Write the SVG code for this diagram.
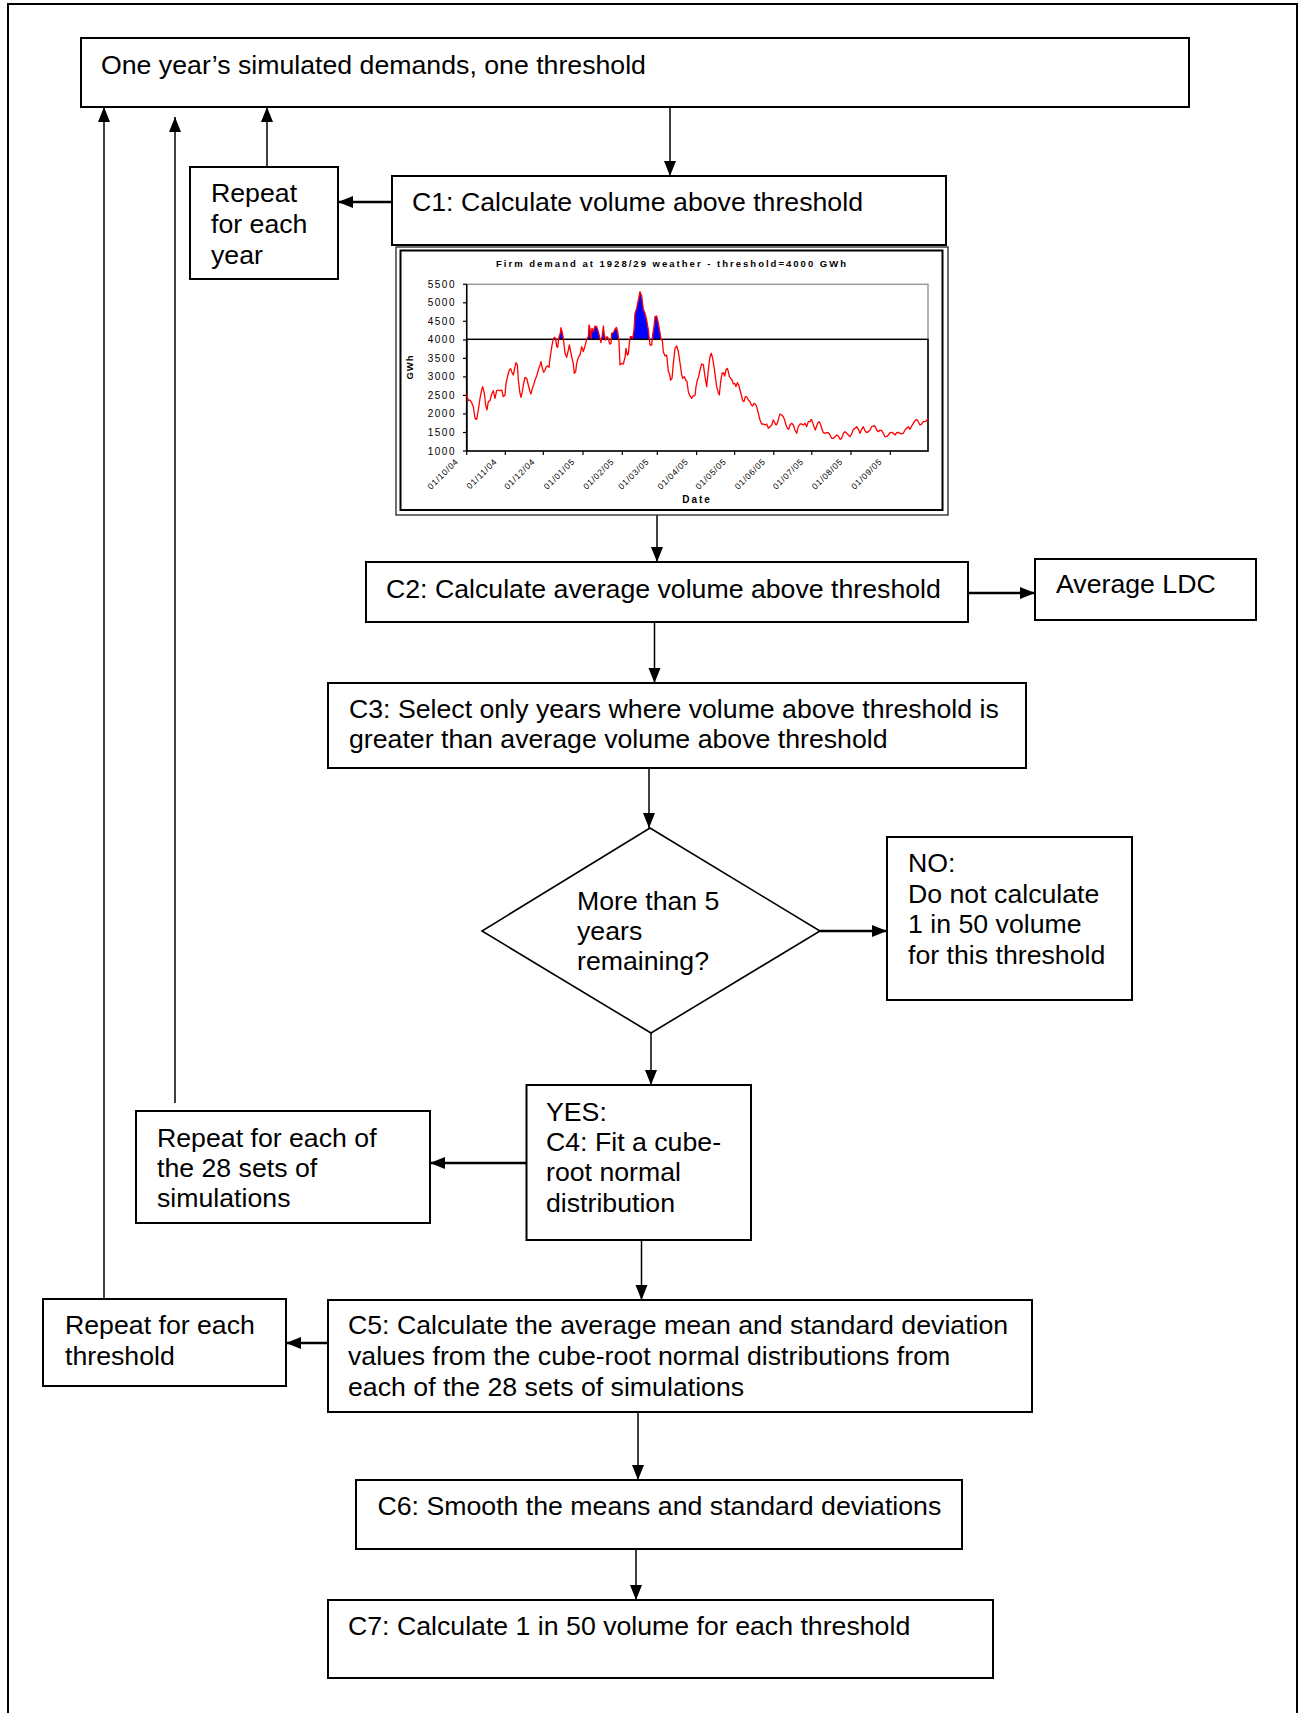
<svg xmlns="http://www.w3.org/2000/svg" width="1298" height="1713" viewBox="0 0 1298 1713">
  <style>
    .box { fill: #fff; stroke: #000; stroke-width: 2; }
    .t { font-family: "Liberation Sans", Arial, sans-serif; font-size: 26.7px; fill: #000; }
    .conn { stroke: #000; fill: none; marker-end: url(#ah); }
    .v { stroke-width: 1.5; }
    .h { stroke-width: 2.5; }
    .ct { font-family: "Liberation Sans", Arial, sans-serif; font-weight: bold; fill: #000; }
    .yl { font-family: "Liberation Sans", Arial, sans-serif; font-size: 10px; letter-spacing: 1.5px; fill: #000; text-anchor: end; }
    .xl { font-family: "Liberation Sans", Arial, sans-serif; font-size: 8.5px; letter-spacing: 0.8px; fill: #000; text-anchor: end; }
    .tick { stroke: #000; stroke-width: 1.2; }
  </style>
  <defs>
    <marker id="ah" markerUnits="userSpaceOnUse" markerWidth="16" markerHeight="14" refX="15" refY="6" orient="auto">
      <path d="M0,0 L15,6 L0,12 z" fill="#000"/>
    </marker>
    <clipPath id="above" clipPathUnits="userSpaceOnUse">
      <rect x="0" y="0" width="720" height="208"/>
    </clipPath>
  </defs>

  <rect width="1298" height="1713" fill="#fff"/>
  <!-- page frame (open at the bottom) -->
  <path d="M8,1713 V4 H1297 V1713" fill="none" stroke="#000" stroke-width="2"/>

  <!-- connectors -->
  <g id="connectors">
    <line class="conn v" x1="670" y1="107" x2="670" y2="176"/>
    <line class="conn h" x1="392" y1="202" x2="338" y2="202"/>
    <line class="conn v" x1="267" y1="167" x2="267" y2="107"/>
    <line class="conn v" x1="175" y1="1103" x2="175" y2="117"/>
    <line class="conn v" x1="104" y1="1299" x2="104" y2="107"/>
    <line class="conn v" x1="657" y1="515" x2="657" y2="562"/>
    <line class="conn h" x1="968" y1="593" x2="1035" y2="593"/>
    <line class="conn v" x1="654.5" y1="622" x2="654.5" y2="683"/>
    <line class="conn v" x1="649" y1="768" x2="649" y2="828"/>
    <line class="conn h" x1="820" y1="931" x2="887" y2="931"/>
    <line class="conn v" x1="651" y1="1033" x2="651" y2="1085"/>
    <line class="conn h" x1="526" y1="1163" x2="430" y2="1163"/>
    <line class="conn v" x1="641.5" y1="1240" x2="641.5" y2="1300"/>
    <line class="conn h" x1="328" y1="1343" x2="286" y2="1343"/>
    <line class="conn v" x1="638" y1="1412" x2="638" y2="1480"/>
    <line class="conn v" x1="636" y1="1549" x2="636" y2="1600"/>
  </g>

  <g id="start">
    <rect class="box" x="81" y="38" width="1108" height="69"/>
    <text class="t" x="101" y="74">One year’s simulated demands, one threshold</text>
  </g>

  <g id="repeat-year">
    <rect class="box" x="190" y="167" width="148" height="112"/>
    <text class="t" x="211" y="202">Repeat</text>
    <text class="t" x="211" y="233">for each</text>
    <text class="t" x="211" y="264">year</text>
  </g>

  <g id="c1">
    <rect class="box" x="392" y="176" width="554" height="69"/>
    <text class="t" x="412" y="211">C1: Calculate volume above threshold</text>
  </g>

  <!-- demand chart under C1 -->
  <g id="chart">
    <rect x="396" y="247" width="552" height="268" fill="#fff" stroke="#222" stroke-width="1.3"/>
    <rect x="400.5" y="250.5" width="542" height="259.5" fill="none" stroke="#000" stroke-width="2"/>
    <text class="ct" x="671" y="267" font-size="9.5" text-anchor="middle" textLength="350" lengthAdjust="spacing">Firm demand at 1928/29 weather - threshold=4000 GWh</text>

    <!-- plot area -->
    <rect x="466.7" y="284.3" width="461.3" height="166.7" fill="none" stroke="#9a9a9a" stroke-width="1.5"/>

    <!-- volume above threshold -->
    <g transform="translate(455 270) scale(0.333333)">
      <polygon clip-path="url(#above)" fill="#0000ff" points="35,372 40,392 45,390 50,398 55,410 60,445 65,448 70,420 75,385 80,360 83,350 88,370 92,405 96,420 100,395 105,392 110,372 115,362 120,385 125,362 130,360 135,362 140,360 145,380 150,375 153,340 158,318 163,300 167,296 170,305 175,315 180,290 183,278 187,285 190,330 195,370 198,382 202,365 205,345 210,322 215,325 220,345 225,365 228,372 232,355 236,345 240,330 245,318 250,300 255,285 258,275 262,295 266,307 270,300 274,290 278,288 282,292 285,265 290,232 294,210 298,202 302,205 305,230 308,232 312,200 316,190 318,173 321,185 325,205 330,250 335,262 340,240 343,225 347,245 350,260 355,282 358,310 362,305 365,280 370,262 375,255 380,230 385,245 390,228 395,208 400,200 402,165 405,175 408,205 411,175 415,185 420,168 425,170 430,185 435,205 438,218 442,195 445,168 448,195 452,210 456,200 460,205 464,222 468,220 470,190 475,188 480,178 484,172 488,185 492,215 495,285 500,280 505,282 510,262 513,235 517,255 520,252 523,220 526,200 530,200 533,205 537,180 540,130 545,115 550,90 555,65 560,78 565,118 570,130 575,150 580,180 585,225 590,225 593,195 597,170 600,140 605,138 610,160 615,188 618,208 622,212 625,245 630,258 635,255 640,305 643,310 647,330 651,325 655,280 660,235 665,228 670,245 675,278 680,315 683,325 688,320 692,330 696,335 700,365 705,378 710,385 714,378 720,375 720,543 35,543"/>
    </g>

    <!-- threshold band and axes -->
    <rect x="466.7" y="339.3" width="461.3" height="111.7" fill="none" stroke="#000" stroke-width="1.5"/>
    <line x1="466.7" y1="284.3" x2="466.7" y2="451" stroke="#000" stroke-width="1.5"/>

    <!-- demand series -->
    <g transform="translate(455 270) scale(0.333333)" fill="none" stroke="#ff0000" stroke-linejoin="round">
      <polyline vector-effect="non-scaling-stroke" stroke-width="1.3" points="35,372 40,392 45,390 50,398 55,410 60,445 65,448 70,420 75,385 80,360 83,350 88,370 92,405 96,420 100,395 105,392 110,372 115,362 120,385 125,362 130,360 135,362 140,360 145,380 150,375 153,340 158,318 163,300 167,296 170,305 175,315 180,290 183,278 187,285 190,330 195,370 198,382 202,365 205,345 210,322 215,325 220,345 225,365 228,372 232,355 236,345 240,330 245,318 250,300 255,285 258,275 262,295 266,307 270,300 274,290 278,288 282,292 285,265 290,232 294,210 298,202 302,205 305,230 308,232 312,200 316,190 318,173 321,185 325,205 330,250 335,262 340,240 343,225 347,245 350,260 355,282 358,310 362,305 365,280 370,262 375,255 380,230 385,245 390,228 395,208 400,200 402,165 405,175 408,205 411,175 415,185 420,168 425,170 430,185 435,205 438,218 442,195 445,168 448,195 452,210 456,200 460,205 464,222 468,220 470,190 475,188 480,178 484,172 488,185 492,215 495,285 500,280 505,282 510,262 513,235 517,255 520,252 523,220 526,200 530,200 533,205 537,180 540,130 545,115 550,90 555,65 560,78 565,118 570,130 575,150 580,180 585,225 590,225 593,195 597,170 600,140 605,138 610,160 615,188 618,208 622,212 625,245 630,258 635,255 640,305 643,310 647,330 651,325 655,280 660,235 665,228 670,245 675,278 680,315 683,325 688,320 692,330 696,335 700,365 705,378 710,385 714,378 720,377"/>
    </g>
    <g transform="translate(690 270) scale(0.333333)" fill="none" stroke="#ff0000" stroke-linejoin="round">
      <polyline vector-effect="non-scaling-stroke" stroke-width="1.3" points="15,377 18,350 22,330 26,320 30,300 35,282 40,284 45,320 50,350 55,300 60,260 64,250 68,265 72,290 76,320 80,350 85,368 88,375 92,335 96,310 100,308 104,318 108,300 112,295 115,305 118,320 122,325 126,330 130,342 134,340 138,350 142,338 146,345 150,360 154,375 158,392 162,395 166,380 170,380 175,390 180,395 184,405 188,408 192,400 196,402 200,410 205,430 210,450 215,462 220,462 225,465 230,462 235,475 240,470 245,465 250,450 254,458 258,465 262,460 266,445 270,432 275,435 280,440 284,450 288,465 292,475 296,478 300,465 305,460 310,465 315,480 320,490 325,470 330,462 335,462 340,465 345,460 350,470 355,455 360,455 364,448 368,458 372,470 376,480 380,468 384,458 388,455 392,465 396,478 400,488 405,490 410,488 415,488 420,495 425,505 430,505 435,500 440,495 445,498 450,508 455,505 460,490 465,485 470,490 475,495 480,500 485,492 490,478 495,475 500,470 505,478 510,490 515,478 520,470 525,482 530,488 535,485 540,480 545,470 550,468 555,468 560,480 565,485 570,480 575,482 580,490 585,500 590,500 595,495 600,488 605,487 610,490 615,495 620,488 625,487 630,490 635,492 640,490 645,480 650,475 655,470 660,478 665,468 670,460 675,452 680,448 685,455 690,465 695,462 700,455 705,455 710,452 714,445"/>
    </g>

    <!-- y axis ticks and labels -->
    <g>
      <line class="tick" x1="463" y1="284.3" x2="466.7" y2="284.3"/>
      <line class="tick" x1="463" y1="302.8" x2="466.7" y2="302.8"/>
      <line class="tick" x1="463" y1="321.3" x2="466.7" y2="321.3"/>
      <line class="tick" x1="463" y1="339.9" x2="466.7" y2="339.9"/>
      <line class="tick" x1="463" y1="358.4" x2="466.7" y2="358.4"/>
      <line class="tick" x1="463" y1="376.9" x2="466.7" y2="376.9"/>
      <line class="tick" x1="463" y1="395.4" x2="466.7" y2="395.4"/>
      <line class="tick" x1="463" y1="413.9" x2="466.7" y2="413.9"/>
      <line class="tick" x1="463" y1="432.5" x2="466.7" y2="432.5"/>
      <line class="tick" x1="463" y1="451" x2="466.7" y2="451"/>
      <text class="yl" x="456" y="287.8">5500</text>
      <text class="yl" x="456" y="306.3">5000</text>
      <text class="yl" x="456" y="324.8">4500</text>
      <text class="yl" x="456" y="343.4">4000</text>
      <text class="yl" x="456" y="361.9">3500</text>
      <text class="yl" x="456" y="380.4">3000</text>
      <text class="yl" x="456" y="398.9">2500</text>
      <text class="yl" x="456" y="417.4">2000</text>
      <text class="yl" x="456" y="436">1500</text>
      <text class="yl" x="456" y="454.5">1000</text>
    </g>
    <text class="ct" font-size="9.5" letter-spacing="1" text-anchor="middle" transform="translate(413 367) rotate(-90)">GWh</text>

    <!-- x axis ticks and labels -->
    <g>
      <line class="tick" x1="466.7" y1="451" x2="466.7" y2="455"/>
      <line class="tick" x1="505.3" y1="451" x2="505.3" y2="455"/>
      <line class="tick" x1="543.3" y1="451" x2="543.3" y2="455"/>
      <line class="tick" x1="583" y1="451" x2="583" y2="455"/>
      <line class="tick" x1="622.3" y1="451" x2="622.3" y2="455"/>
      <line class="tick" x1="657.3" y1="451" x2="657.3" y2="455"/>
      <line class="tick" x1="696.6" y1="451" x2="696.6" y2="455"/>
      <line class="tick" x1="734.6" y1="451" x2="734.6" y2="455"/>
      <line class="tick" x1="773.8" y1="451" x2="773.8" y2="455"/>
      <line class="tick" x1="811.8" y1="451" x2="811.8" y2="455"/>
      <line class="tick" x1="851" y1="451" x2="851" y2="455"/>
      <line class="tick" x1="890.3" y1="451" x2="890.3" y2="455"/>
      <text class="xl" transform="translate(459 462) rotate(-45)">01/10/04</text>
      <text class="xl" transform="translate(497.6 462) rotate(-45)">01/11/04</text>
      <text class="xl" transform="translate(535.6 462) rotate(-45)">01/12/04</text>
      <text class="xl" transform="translate(575.3 462) rotate(-45)">01/01/05</text>
      <text class="xl" transform="translate(614.6 462) rotate(-45)">01/02/05</text>
      <text class="xl" transform="translate(649.6 462) rotate(-45)">01/03/05</text>
      <text class="xl" transform="translate(688.9 462) rotate(-45)">01/04/05</text>
      <text class="xl" transform="translate(726.9 462) rotate(-45)">01/05/05</text>
      <text class="xl" transform="translate(766.1 462) rotate(-45)">01/06/05</text>
      <text class="xl" transform="translate(804.1 462) rotate(-45)">01/07/05</text>
      <text class="xl" transform="translate(843.3 462) rotate(-45)">01/08/05</text>
      <text class="xl" transform="translate(882.6 462) rotate(-45)">01/09/05</text>
    </g>
    <text class="ct" x="697" y="503" font-size="10" letter-spacing="2" text-anchor="middle">Date</text>
  </g>

  <g id="c2">
    <rect class="box" x="366" y="562" width="602" height="60"/>
    <text class="t" x="386" y="598">C2: Calculate average volume above threshold</text>
  </g>

  <g id="average-ldc">
    <rect class="box" x="1035" y="559" width="221" height="61"/>
    <text class="t" x="1056" y="593">Average LDC</text>
  </g>

  <g id="c3">
    <rect class="box" x="328" y="683" width="698" height="85"/>
    <text class="t" x="349" y="717.5">C3: Select only years where volume above threshold is</text>
    <text class="t" x="349" y="748">greater than average volume above threshold</text>
  </g>

  <g id="decision">
    <polygon points="650,828 820,931 651,1033 482,931" fill="#fff" stroke="#000" stroke-width="1.6"/>
    <text class="t" x="577" y="910">More than 5</text>
    <text class="t" x="577" y="940">years</text>
    <text class="t" x="577" y="970">remaining?</text>
  </g>

  <g id="no">
    <rect class="box" x="887" y="837" width="245" height="163"/>
    <text class="t" x="908" y="872">NO:</text>
    <text class="t" x="908" y="902.5">Do not calculate</text>
    <text class="t" x="908" y="933">1 in 50 volume</text>
    <text class="t" x="908" y="963.5">for this threshold</text>
  </g>

  <g id="yes-c4">
    <rect class="box" x="526.5" y="1085" width="224.5" height="155"/>
    <text class="t" x="546" y="1120.5">YES:</text>
    <text class="t" x="546" y="1151">C4: Fit a cube-</text>
    <text class="t" x="546" y="1181">root normal</text>
    <text class="t" x="546" y="1211.5">distribution</text>
  </g>

  <g id="repeat-sets">
    <rect class="box" x="136" y="1111" width="294" height="112"/>
    <text class="t" x="157" y="1146.5">Repeat for each of</text>
    <text class="t" x="157" y="1176.5">the 28 sets of</text>
    <text class="t" x="157" y="1206.5">simulations</text>
  </g>

  <g id="repeat-threshold">
    <rect class="box" x="43" y="1299" width="243" height="87"/>
    <text class="t" x="65" y="1334">Repeat for each</text>
    <text class="t" x="65" y="1365">threshold</text>
  </g>

  <g id="c5">
    <rect class="box" x="328" y="1300" width="704" height="112"/>
    <text class="t" x="348" y="1334">C5: Calculate the average mean and standard deviation</text>
    <text class="t" x="348" y="1365">values from the cube-root normal distributions from</text>
    <text class="t" x="348" y="1396">each of the 28 sets of simulations</text>
  </g>

  <g id="c6">
    <rect class="box" x="356" y="1480" width="606" height="69"/>
    <text class="t" x="377.5" y="1515">C6: Smooth the means and standard deviations</text>
  </g>

  <g id="c7">
    <rect class="box" x="328" y="1600" width="665" height="78"/>
    <text class="t" x="348" y="1635">C7: Calculate 1 in 50 volume for each threshold</text>
  </g>
</svg>
